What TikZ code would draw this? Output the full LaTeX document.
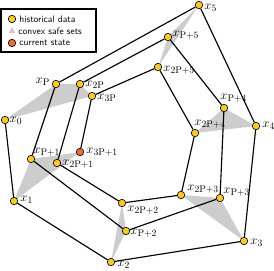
\documentclass[tikz,border=0pt]{standalone}
\usepackage{xcolor}
\usepackage{tikz}
\definecolor{histcolor}{RGB}{252, 204, 20}
\definecolor{curcolor}{RGB}{240, 110, 40}
\definecolor{safecolor}{RGB}{205, 205, 205}
\usetikzlibrary{shapes.geometric, positioning, backgrounds}

\begin{document}
\begin{tikzpicture}[
    x=0.04cm, y=-0.04cm,
    hist/.style={circle, draw, line width=0.7pt, fill=histcolor, inner sep=0pt, minimum size=0.3cm},
    cur/.style={hist, fill=curcolor},
    lbl/.style={inner sep=0pt, font=\fontsize{15}{17}\selectfont},
    legtext/.style={inner sep=0pt, font=\sffamily\fontsize{10.8}{12}\selectfont},
    traj/.style={line width=1.3pt},
    safe/.style={fill=safecolor}
]
    \useasboundingbox (0,0) rectangle (274,270);

    % historical data
    \node[hist] (x0) at (5,120) {};
    \node[hist] (x1) at (14,201) {};
    \node[hist] (x2) at (111,262) {};
    \node[hist] (x3) at (244,241) {};
    \node[hist] (x4) at (256,126) {};
    \node[hist] (x5) at (199,5) {};
    \node[hist] (xP) at (56,84) {};
    \node[hist] (xP1) at (31,159) {};
    \node[hist] (xP2) at (126,231) {};
    \node[hist] (xP3) at (220,198) {};
    \node[hist] (xP4) at (224,108) {};
    \node[hist] (xP5) at (168,37) {};
    \node[hist] (x2P) at (80,84) {};
    \node[hist] (x2P1) at (57,163) {};
    \node[hist] (x2P2) at (122,203) {};
    \node[hist] (x2P3) at (181,195) {};
    \node[hist] (x2P4) at (195,133) {};
    \node[hist] (x2P5) at (158,67) {};
    \node[hist] (x3P) at (92,96) {};
    \node[cur] (x3P1) at (80,152) {};

    \node[lbl, right=0.02cm of x0, yshift=-0.04cm] (lx0) {$x_0$};
    \node[lbl, right=0.09cm of x1, yshift=0.04cm] (lx1) {$x_1$};
    \node[lbl, right=0.09cm of x2, yshift=-0.12cm] (lx2) {$x_2$};
    \node[lbl, right=0.09cm of x3, yshift=-0.08cm] (lx3) {$x_3$};
    \node[lbl, right=0.09cm of x4] (lx4) {$x_4$};
    \node[lbl, right=0.05cm of x5, yshift=-0.12cm] (lx5) {$x_5$};
    \node[lbl, left=0.08cm of xP, yshift=0.08cm] (lxP) {$x_{\mathrm{P}}$};
    \node[lbl, right=-0.07cm of xP1, yshift=0.28cm] (lxP1) {$x_{\mathrm{P}+1}$};
    \node[lbl, right=0.01cm of xP2, yshift=-0.08cm] (lxP2) {$x_{\mathrm{P}+2}$};
    \node[lbl, right=-0.03cm of xP3, yshift=0.24cm] (lxP3) {$x_{\mathrm{P}+3}$};
    \node[lbl, right=-0.31cm of xP4, yshift=0.4cm] (lxP4) {$x_{\mathrm{P}+4}$};
    \node[lbl, right=0.01cm of xP5, yshift=0.08cm] (lxP5) {$x_{\mathrm{P}+5}$};
    \node[lbl, right=0.05cm of x2P, yshift=-0.04cm] (lx2P) {$x_{2\mathrm{P}}$};
    \node[lbl, right=0.05cm of x2P1, yshift=-0.04cm] (lx2P1) {$x_{2\mathrm{P}+1}$};
    \node[lbl, right=0.05cm of x2P2, yshift=-0.28cm] (lx2P2) {$x_{2\mathrm{P}+2}$};
    \node[lbl, right=0.09cm of x2P3, yshift=0.24cm] (lx2P3) {$x_{2\mathrm{P}+3}$};
    \node[lbl, right=-0.19cm of x2P4, yshift=0.36cm] (lx2P4) {$x_{2\mathrm{P}+4}$};
    \node[lbl, right=0.05cm of x2P5, yshift=-0.12cm] (lx2P5) {$x_{2\mathrm{P}+5}$};
    \node[lbl, right=0.05cm of x3P, yshift=-0.08cm] (lx3P) {$x_{3\mathrm{P}}$};
    \node[lbl, right=0.09cm of x3P1] (lx3P1) {$x_{3\mathrm{P}+1}$};

    % convex safe sets
    \begin{scope}[on background layer]
        \fill[safe] (x0.center) -- (xP.center) -- (x2P.center) -- (x3P.center) -- cycle;
        \fill[safe] (x1.center) -- (xP1.center) -- (x3P1.center) -- cycle;
        \fill[safe] (x2.center) -- (xP2.center) -- (x2P2.center) -- cycle;
        \fill[safe] (x3.center) -- (xP3.center) -- (x2P3.center) -- cycle;
        \fill[safe] (x4.center) -- (xP4.center) -- (x2P4.center) -- cycle;
        \fill[safe] (x5.center) -- (xP5.center) -- (x2P5.center) -- cycle;
    \end{scope}

    \draw[traj] (x0) -- (x1) -- (x2) -- (x3) -- (x4) -- (x5) -- (xP)
        -- (xP1) -- (xP2) -- (xP3) -- (xP4) -- (xP5) -- (x2P)
        -- (x2P1) -- (x2P2) -- (x2P3) -- (x2P4) -- (x2P5) -- (x3P) -- (x3P1);

    % legend
    \node[draw, fill=white, line width=1.2pt, minimum width=3.8cm, minimum height=1.72cm, inner sep=0pt] (legend) at (48.5,30.5) {};
    \node[hist] (leghist) at (12,19) {};
    \node[regular polygon, regular polygon sides=3, fill=safecolor, inner sep=0pt, minimum size=0.32cm] (legsafe) at (12,31) {};
    \node[cur] (legcur) at (12,43) {};
    \node[legtext, right=0.13cm of leghist] (txthist) {historical data};
    \node[legtext, right=0.15cm of legsafe] (txtsafe) {convex safe sets};
    \node[legtext, right=0.13cm of legcur] (txtcur) {current state};
\end{tikzpicture}
\end{document}
